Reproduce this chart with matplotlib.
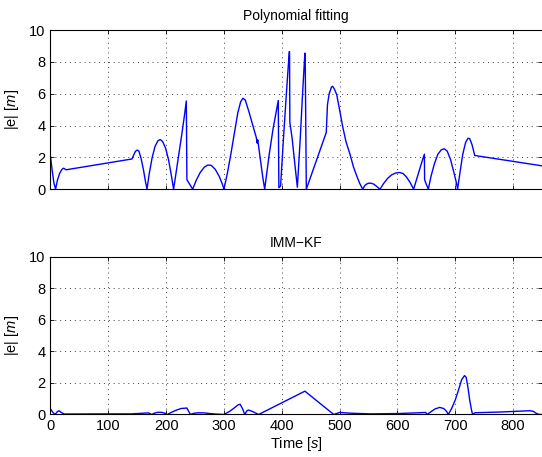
import numpy as np
import matplotlib
matplotlib.use("Agg")
import matplotlib.pyplot as plt

plt.rcParams['font.family'] = ['Liberation Sans', 'DejaVu Sans']
plt.rcParams['mathtext.fontset'] = 'custom'
plt.rcParams['mathtext.rm'] = 'Liberation Sans'
plt.rcParams['mathtext.it'] = 'Liberation Sans:italic'

# Polynomial fitting error
t_poly = [0, 3, 6, 9, 12, 16, 20, 23, 27, 141, 144, 147, 150, 153, 157, 161, 164, 167,
          171, 176, 181, 186, 190, 194, 199, 204, 209, 213, 220, 227, 232, 235, 236, 241, 246,
          252, 259, 266, 272, 278, 285, 292, 297, 300, 306, 312, 318, 324, 329, 333, 337, 343,
          350, 356, 357.5, 358.5, 360, 364, 367, 370.5, 378, 385, 394, 395, 398, 403, 408, 413,
          413.5, 414, 418, 422, 427, 432, 436, 440, 440.5, 442.5, 477, 479, 482, 486, 488, 491,
          495, 500, 505, 511, 518, 524, 530, 535, 540, 544, 549, 554, 559, 564, 570, 576, 583,
          590, 597, 604, 610, 616, 622, 628, 633, 638, 643, 646.6, 647, 650, 653.5, 658, 664,
          670, 676, 681, 686, 692, 698, 702, 704, 708, 713, 718, 722, 725, 729, 733.7, 850]
e_poly = [2.1, 1.2, 0.4, 0, 0.55, 1.0, 1.25, 1.32, 1.22, 1.9, 2.15, 2.38, 2.46, 2.4, 1.9, 1.2, 0.55, 0,
          1.0, 2.0, 2.7, 3.05, 3.12, 3.0, 2.6, 1.9, 0.9, 0, 1.7, 3.4, 4.7, 5.55, 0.6, 0.3, 0,
          0.55, 1.05, 1.38, 1.52, 1.5, 1.25, 0.8, 0.35, 0, 1.0, 2.2, 3.5, 4.8, 5.5, 5.72, 5.6, 4.9,
          4.0, 3.25, 2.9, 3.1, 2.7, 1.6, 0.8, 0, 2.1, 3.8, 5.58, 0.1, 0.2, 3.2, 6.0, 8.65,
          8.65, 4.2, 3.2, 1.8, 0.12, 3.2, 6.0, 8.55, 8.55, 0, 3.57, 5.3, 6.0, 6.42, 6.47, 6.3,
          5.95, 5.0, 4.0, 3.0, 2.2, 1.4, 0.8, 0.35, 0, 0.25, 0.37, 0.38, 0.32, 0.18, 0, 0.35, 0.68,
          0.9, 1.02, 1.05, 0.98, 0.75, 0.42, 0, 0.6, 1.2, 1.8, 2.2, 0.6, 0.3, 0, 0.8, 1.6,
          2.2, 2.48, 2.54, 2.4, 1.85, 1.0, 0.4, 0, 1.0, 2.2, 2.95, 3.2, 3.18, 2.8, 2.12, 1.47]

# IMM-KF error
t_imm = [0, 4, 8, 12, 15, 19, 24, 100, 140, 164, 170, 175, 181, 187, 193, 199, 202, 210, 218,
         226, 236, 242, 248, 256, 266, 276, 285, 300, 310, 318, 324, 328, 331, 333, 336, 340,
         343, 350, 360, 440, 490, 500, 520, 553, 600, 630, 649, 651, 657, 665, 673, 680, 685,
         688, 694, 700, 706, 711, 716, 719, 722, 725, 728, 730, 734, 780, 829, 835, 841, 846, 850]
e_imm = [0.35, 0.15, 0, 0.18, 0.24, 0.12, 0.03, 0.04, 0.04, 0.09, 0.1, 0, 0.1, 0.14, 0.13, 0.07, 0, 0.15, 0.28,
         0.38, 0.41, 0, 0.08, 0.11, 0.1, 0.06, 0.03, 0, 0.2, 0.42, 0.6, 0.65, 0.45, 0.3, 0, 0.25,
         0.28, 0.18, 0, 1.48, 0, 0.13, 0.08, 0.04, 0.06, 0.1, 0.13, 0, 0.15, 0.35, 0.45, 0.38, 0.2,
         0, 0.4, 0.92, 1.6, 2.2, 2.47, 2.35, 1.7, 0.92, 0.3, 0, 0.11, 0.16, 0.24, 0.2, 0.05, 0, 0]

fig = plt.figure(figsize=(5.42, 4.57), dpi=100)
ax1 = fig.add_axes([0.093, 0.586, 0.907, 0.348])
ax2 = fig.add_axes([0.093, 0.093, 0.907, 0.345])


def style(ax, title):
    ax.set_xlim(0, 850)
    ax.set_ylim(0, 10)
    ax.set_xticks(range(0, 900, 100))
    ax.set_yticks(range(0, 12, 2))
    ax.grid(True, color='0.25', linestyle=(0, (1, 4)), linewidth=0.7)
    ax.tick_params(direction='in', top=True, right=True, labelsize=10.5, length=3, width=0.6)
    ax.spines['right'].set_visible(False)
    for s in ['left', 'bottom', 'top']:
        ax.spines[s].set_linewidth(0.8)
    ax.set_title(title, fontsize=10, pad=7)
    ax.set_ylabel(r'|e| $\mathit{[m]}$', fontsize=10.5, labelpad=6)


ax1.plot(t_poly, e_poly, color='#0000ff', linewidth=1.0)
style(ax1, 'Polynomial fitting')
ax1.set_xticklabels([])

ax2.plot(t_imm, e_imm, color='#0000ff', linewidth=1.0)
style(ax2, 'IMM\u2212KF')
ax2.set_xlabel(r'Time $\mathit{[s]}$', fontsize=10.5, labelpad=1)

fig.savefig('out.png', dpi=100)
